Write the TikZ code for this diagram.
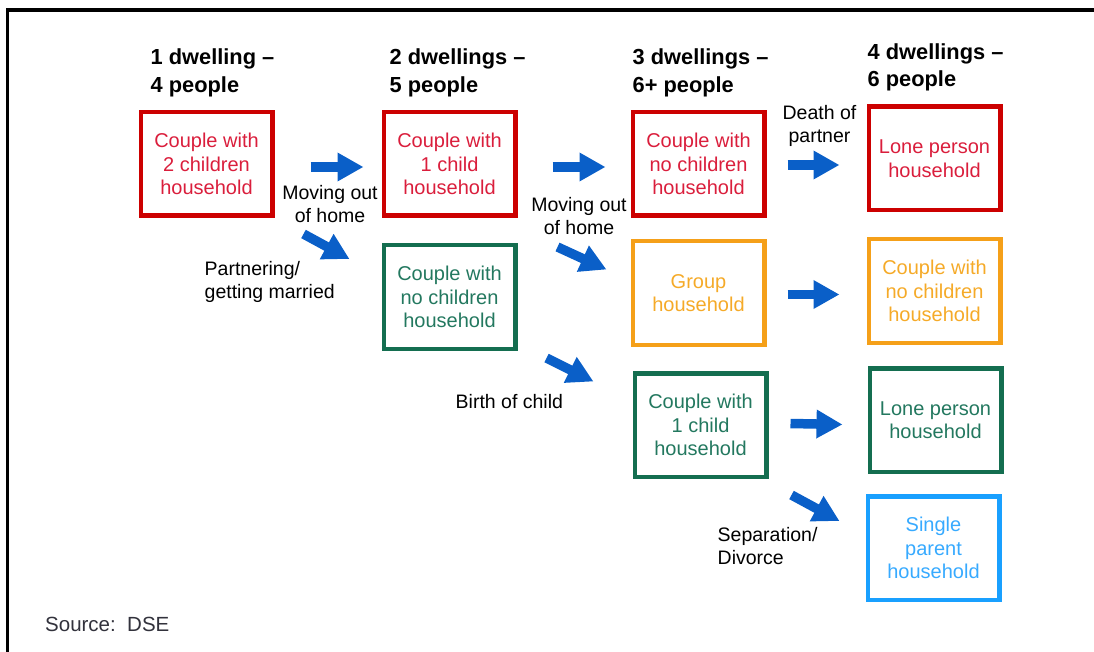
\documentclass[tikz,border=0pt]{standalone}
\usepackage{fontspec}
\setmainfont{Liberation Sans}
\usetikzlibrary{positioning,arrows.meta}

\definecolor{boxred}{RGB}{204,0,0}
\definecolor{txtred}{RGB}{218,30,60}
\definecolor{boxgreen}{RGB}{20,110,80}
\definecolor{txtgreen}{RGB}{35,120,95}
\definecolor{boxorange}{RGB}{245,160,25}
\definecolor{txtorange}{RGB}{245,170,40}
\definecolor{boxblue}{RGB}{25,160,255}
\definecolor{txtblue}{RGB}{55,170,255}
\definecolor{flowblue}{RGB}{10,95,200}
\definecolor{srcgray}{RGB}{50,50,60}

\begin{document}
\begin{tikzpicture}[x=1pt,y=-1pt,
    box/.style={line width=4.5pt, minimum width=131.5pt, minimum height=103.5pt,
      inner sep=0pt, align=center, font=\fontsize{20}{23.5}\selectfont},
    redbox/.style={box, draw=boxred, text=txtred},
    greenbox/.style={box, draw=boxgreen, text=txtgreen},
    orangebox/.style={box, draw=boxorange, text=txtorange},
    bluebox/.style={box, draw=boxblue, text=txtblue},
    head/.style={anchor=south west, inner sep=0pt, align=left,
      font=\bfseries\fontsize{21.8}{27.5}\selectfont},
    lbl/.style={inner sep=0pt, text=black, font=\fontsize{19.5}{23.5}\selectfont},
    flow/.style={draw=flowblue, line width=9.5pt, -{Triangle[length=26pt,width=27pt]}}]
    \useasboundingbox (0,0) rectangle (1094,652);
    \draw[line width=3.4pt] (7.7,652) -- (7.7,10) -- (1094,10);

    \node[redbox] (cpl2) at (206.5,164) {Couple with\\2 children\\household};
    \node[redbox, right=107pt of cpl2] (cpl1) {Couple with\\1 child\\household};
    \node[greenbox, below=25pt of cpl1] (cpl0) {Couple with\\no children\\household};
    \node[redbox, right=113pt of cpl1] (old) {Couple with\\no children\\household};
    \node[orangebox, below=21pt of old] (grp) {Group\\household};
    \node[greenbox, below=24pt of grp, xshift=2pt] (young1) {Couple with\\1 child\\household};
    \node[redbox, right=100pt of old, yshift=5.5pt] (widow) {Lone person\\household};
    \node[orangebox, below=24.5pt of widow] (young0) {Couple with\\no children\\household};
    \node[greenbox, below=21pt of young0, xshift=1pt] (lone) {Lone person\\household};
    \node[bluebox, below=20pt of lone, xshift=-2pt] (single) {Single\\parent\\household};

    \node[head] (h1) at ([xshift=12pt,yshift=13pt]cpl2.north west) {1 dwelling –\\4 people};
    \node[head] (h2) at ([xshift=8pt,yshift=13pt]cpl1.north west) {2 dwellings –\\5 people};
    \node[head] (h3) at ([xshift=2pt,yshift=13pt]old.north west) {3 dwellings –\\6+ people};
    \node[head] (h4) at ([xshift=1pt,yshift=13pt]widow.north west) {4 dwellings –\\6 people};

    \coordinate (s1) at ([shift={(36,3)}]cpl2.east);
    \coordinate (e1) at ([shift={(-18,3)}]cpl1.west);
    \coordinate (s2) at ([shift={(29,16)}]cpl2.south east);
    \coordinate (e2) at ([shift={(-32,16)}]cpl0.north west);
    \coordinate (s3) at ([shift={(35,3)}]cpl1.east);
    \coordinate (e3) at ([shift={(-25,3)}]old.west);
    \coordinate (s4) at ([shift={(40,29)}]cpl1.south east);
    \coordinate (e4) at ([shift={(-24,-23.5)}]grp.west);
    \coordinate (s5) at ([shift={(29,7)}]cpl0.south east);
    \coordinate (e5) at ([shift={(-39,-43.5)}]young1.west);
    \coordinate (s6) at ([shift={(21,1)}]old.east);
    \coordinate (e6) at ([shift={(-27,6.5)}]widow.west);
    \coordinate (s7) at ([shift={(21,1.5)}]grp.east);
    \coordinate (e7) at ([shift={(-27,3.5)}]young0.west);
    \coordinate (s8) at ([shift={(22,-1.5)}]young1.east);
    \coordinate (e8) at ([shift={(-25,4.5)}]lone.west);
    \coordinate (s9) at ([shift={(23,16)}]young1.south east);
    \coordinate (e9) at ([shift={(-26,-27)}]single.west);

    \draw[flow] (s1) -- (e1);
    \draw[flow] (s2) -- (e2);
    \draw[flow] (s3) -- (e3);
    \draw[flow] (s4) -- (e4);
    \draw[flow] (s5) -- (e5);
    \draw[flow] (s6) -- (e6);
    \draw[flow] (s7) -- (e7);
    \draw[flow] (s8) -- (e8);
    \draw[flow] (s9) -- (e9);

    \node[lbl, align=center, below=18pt of s1, xshift=19.5pt] (mv1) {Moving out\\of home};
    \node[lbl, align=left, below right=27pt and -99pt of s2] (pm) {Partnering/\\getting married};
    \node[lbl, align=center, below=30pt of s3, xshift=26.5pt] (mv2) {Moving out\\of home};
    \node[lbl, below right=36pt and -91pt of s5] (bc) {Birth of child};
    \node[lbl, align=center, above=18pt of s6, xshift=32pt] (dp) {Death of\\partner};
    \node[lbl, align=left, below right=32pt and -74pt of s9] (sd) {Separation/\\Divorce};
    \node[lbl, text=srcgray, anchor=north west, font=\fontsize{20.5}{24}\selectfont] (src) at (45,617) {Source:\ \ DSE};
\end{tikzpicture}
\end{document}
